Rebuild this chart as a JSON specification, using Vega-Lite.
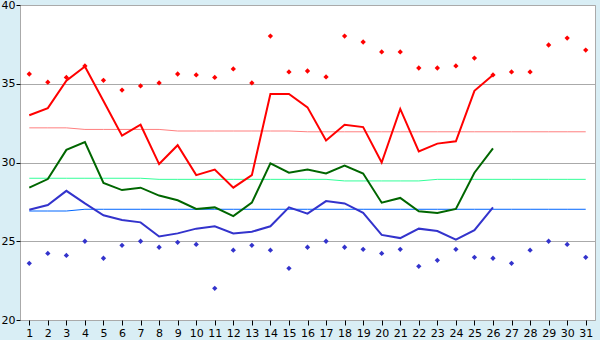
{
  "$schema": "https://vega.github.io/schema/vega-lite/v6.json",
  "width": 575,
  "height": 315,
  "autosize": {"type": "none"},
  "padding": {"left": 20, "top": 5, "right": 5, "bottom": 20},
  "background": "#d9eef5",
  "view": {"fill": "#ffffff", "stroke": "#aaaaaa", "strokeWidth": 1},
  "config": {
    "font": "DejaVu Sans",
    "axis": {"labelFont": "DejaVu Sans", "labelFontSize": 11, "labelColor": "#000000", "tickColor": "#000000", "domain": false, "title": null}
  },
  "datasets": {
    "lines": [
      {"day":1,"s":"max","v":33.0},{"day":2,"s":"max","v":33.45},{"day":3,"s":"max","v":35.2},{"day":4,"s":"max","v":36.1},{"day":5,"s":"max","v":33.9},{"day":6,"s":"max","v":31.7},{"day":7,"s":"max","v":32.4},{"day":8,"s":"max","v":29.9},{"day":9,"s":"max","v":31.1},{"day":10,"s":"max","v":29.2},{"day":11,"s":"max","v":29.55},{"day":12,"s":"max","v":28.4},{"day":13,"s":"max","v":29.2},{"day":14,"s":"max","v":34.35},{"day":15,"s":"max","v":34.35},{"day":16,"s":"max","v":33.5},{"day":17,"s":"max","v":31.4},{"day":18,"s":"max","v":32.4},{"day":19,"s":"max","v":32.25},{"day":20,"s":"max","v":30.0},{"day":21,"s":"max","v":33.4},{"day":22,"s":"max","v":30.7},{"day":23,"s":"max","v":31.2},{"day":24,"s":"max","v":31.35},{"day":25,"s":"max","v":34.55},{"day":26,"s":"max","v":35.55},
      {"day":1,"s":"mean","v":28.4},{"day":2,"s":"mean","v":28.95},{"day":3,"s":"mean","v":30.8},{"day":4,"s":"mean","v":31.3},{"day":5,"s":"mean","v":28.7},{"day":6,"s":"mean","v":28.25},{"day":7,"s":"mean","v":28.4},{"day":8,"s":"mean","v":27.9},{"day":9,"s":"mean","v":27.6},{"day":10,"s":"mean","v":27.05},{"day":11,"s":"mean","v":27.15},{"day":12,"s":"mean","v":26.6},{"day":13,"s":"mean","v":27.45},{"day":14,"s":"mean","v":29.95},{"day":15,"s":"mean","v":29.35},{"day":16,"s":"mean","v":29.55},{"day":17,"s":"mean","v":29.3},{"day":18,"s":"mean","v":29.8},{"day":19,"s":"mean","v":29.3},{"day":20,"s":"mean","v":27.45},{"day":21,"s":"mean","v":27.75},{"day":22,"s":"mean","v":26.9},{"day":23,"s":"mean","v":26.8},{"day":24,"s":"mean","v":27.05},{"day":25,"s":"mean","v":29.35},{"day":26,"s":"mean","v":30.9},
      {"day":1,"s":"min","v":27.0},{"day":2,"s":"min","v":27.3},{"day":3,"s":"min","v":28.2},{"day":4,"s":"min","v":27.4},{"day":5,"s":"min","v":26.65},{"day":6,"s":"min","v":26.35},{"day":7,"s":"min","v":26.2},{"day":8,"s":"min","v":25.3},{"day":9,"s":"min","v":25.5},{"day":10,"s":"min","v":25.8},{"day":11,"s":"min","v":25.95},{"day":12,"s":"min","v":25.5},{"day":13,"s":"min","v":25.6},{"day":14,"s":"min","v":25.95},{"day":15,"s":"min","v":27.15},{"day":16,"s":"min","v":26.75},{"day":17,"s":"min","v":27.55},{"day":18,"s":"min","v":27.4},{"day":19,"s":"min","v":26.8},{"day":20,"s":"min","v":25.4},{"day":21,"s":"min","v":25.2},{"day":22,"s":"min","v":25.8},{"day":23,"s":"min","v":25.65},{"day":24,"s":"min","v":25.1},{"day":25,"s":"min","v":25.7},{"day":26,"s":"min","v":27.15}
    ],
    "normals": [
      {"day":1,"s":"nmax","v":32.2},{"day":2,"s":"nmax","v":32.2},{"day":3,"s":"nmax","v":32.2},{"day":4,"s":"nmax","v":32.1},{"day":5,"s":"nmax","v":32.1},{"day":6,"s":"nmax","v":32.1},{"day":7,"s":"nmax","v":32.1},{"day":8,"s":"nmax","v":32.1},{"day":9,"s":"nmax","v":32.0},{"day":10,"s":"nmax","v":32.0},{"day":11,"s":"nmax","v":32.0},{"day":12,"s":"nmax","v":32.0},{"day":13,"s":"nmax","v":32.0},{"day":14,"s":"nmax","v":32.0},{"day":15,"s":"nmax","v":32.0},{"day":16,"s":"nmax","v":31.95},{"day":17,"s":"nmax","v":31.95},{"day":18,"s":"nmax","v":31.95},{"day":19,"s":"nmax","v":31.95},{"day":20,"s":"nmax","v":31.95},{"day":21,"s":"nmax","v":31.95},{"day":22,"s":"nmax","v":31.95},{"day":23,"s":"nmax","v":31.95},{"day":24,"s":"nmax","v":31.95},{"day":25,"s":"nmax","v":31.95},{"day":26,"s":"nmax","v":31.95},{"day":27,"s":"nmax","v":31.95},{"day":28,"s":"nmax","v":31.95},{"day":29,"s":"nmax","v":31.95},{"day":30,"s":"nmax","v":31.95},{"day":31,"s":"nmax","v":31.95},
      {"day":1,"s":"nmean","v":29.0},{"day":2,"s":"nmean","v":29.0},{"day":3,"s":"nmean","v":29.0},{"day":4,"s":"nmean","v":29.0},{"day":5,"s":"nmean","v":29.0},{"day":6,"s":"nmean","v":29.0},{"day":7,"s":"nmean","v":29.0},{"day":8,"s":"nmean","v":28.93},{"day":9,"s":"nmean","v":28.93},{"day":10,"s":"nmean","v":28.93},{"day":11,"s":"nmean","v":28.93},{"day":12,"s":"nmean","v":28.93},{"day":13,"s":"nmean","v":28.93},{"day":14,"s":"nmean","v":28.93},{"day":15,"s":"nmean","v":28.93},{"day":16,"s":"nmean","v":28.93},{"day":17,"s":"nmean","v":28.93},{"day":18,"s":"nmean","v":28.83},{"day":19,"s":"nmean","v":28.83},{"day":20,"s":"nmean","v":28.83},{"day":21,"s":"nmean","v":28.83},{"day":22,"s":"nmean","v":28.83},{"day":23,"s":"nmean","v":28.93},{"day":24,"s":"nmean","v":28.93},{"day":25,"s":"nmean","v":28.93},{"day":26,"s":"nmean","v":28.93},{"day":27,"s":"nmean","v":28.93},{"day":28,"s":"nmean","v":28.93},{"day":29,"s":"nmean","v":28.93},{"day":30,"s":"nmean","v":28.93},{"day":31,"s":"nmean","v":28.93},
      {"day":1,"s":"nmin","v":26.92},{"day":2,"s":"nmin","v":26.92},{"day":3,"s":"nmin","v":26.92},{"day":4,"s":"nmin","v":27.03},{"day":5,"s":"nmin","v":27.03},{"day":6,"s":"nmin","v":27.03},{"day":7,"s":"nmin","v":27.03},{"day":8,"s":"nmin","v":27.03},{"day":9,"s":"nmin","v":27.03},{"day":10,"s":"nmin","v":27.03},{"day":11,"s":"nmin","v":27.03},{"day":12,"s":"nmin","v":27.03},{"day":13,"s":"nmin","v":27.03},{"day":14,"s":"nmin","v":27.03},{"day":15,"s":"nmin","v":27.03},{"day":16,"s":"nmin","v":27.03},{"day":17,"s":"nmin","v":27.03},{"day":18,"s":"nmin","v":27.03},{"day":19,"s":"nmin","v":27.03},{"day":20,"s":"nmin","v":27.03},{"day":21,"s":"nmin","v":27.03},{"day":22,"s":"nmin","v":27.03},{"day":23,"s":"nmin","v":27.03},{"day":24,"s":"nmin","v":27.03},{"day":25,"s":"nmin","v":27.03},{"day":26,"s":"nmin","v":27.03},{"day":27,"s":"nmin","v":27.03},{"day":28,"s":"nmin","v":27.03},{"day":29,"s":"nmin","v":27.03},{"day":30,"s":"nmin","v":27.03},{"day":31,"s":"nmin","v":27.03}
    ],
    "records": [
      {"day":1,"s":"rhigh","v":35.62},{"day":2,"s":"rhigh","v":35.1},{"day":3,"s":"rhigh","v":35.4},{"day":4,"s":"rhigh","v":36.13},{"day":5,"s":"rhigh","v":35.22},{"day":6,"s":"rhigh","v":34.6},{"day":7,"s":"rhigh","v":34.86},{"day":8,"s":"rhigh","v":35.05},{"day":9,"s":"rhigh","v":35.62},{"day":10,"s":"rhigh","v":35.56},{"day":11,"s":"rhigh","v":35.4},{"day":12,"s":"rhigh","v":35.94},{"day":13,"s":"rhigh","v":35.05},{"day":14,"s":"rhigh","v":38.03},{"day":15,"s":"rhigh","v":35.75},{"day":16,"s":"rhigh","v":35.81},{"day":17,"s":"rhigh","v":35.43},{"day":18,"s":"rhigh","v":38.03},{"day":19,"s":"rhigh","v":37.65},{"day":20,"s":"rhigh","v":37.02},{"day":21,"s":"rhigh","v":37.02},{"day":22,"s":"rhigh","v":36.0},{"day":23,"s":"rhigh","v":36.0},{"day":24,"s":"rhigh","v":36.13},{"day":25,"s":"rhigh","v":36.63},{"day":26,"s":"rhigh","v":35.56},{"day":27,"s":"rhigh","v":35.75},{"day":28,"s":"rhigh","v":35.75},{"day":29,"s":"rhigh","v":37.46},{"day":30,"s":"rhigh","v":37.9},{"day":31,"s":"rhigh","v":37.14},
      {"day":1,"s":"rlow","v":23.6},{"day":2,"s":"rlow","v":24.23},{"day":3,"s":"rlow","v":24.1},{"day":4,"s":"rlow","v":25.0},{"day":5,"s":"rlow","v":23.92},{"day":6,"s":"rlow","v":24.74},{"day":7,"s":"rlow","v":25.0},{"day":8,"s":"rlow","v":24.62},{"day":9,"s":"rlow","v":24.93},{"day":10,"s":"rlow","v":24.8},{"day":11,"s":"rlow","v":22.01},{"day":12,"s":"rlow","v":24.43},{"day":13,"s":"rlow","v":24.74},{"day":14,"s":"rlow","v":24.43},{"day":15,"s":"rlow","v":23.28},{"day":16,"s":"rlow","v":24.62},{"day":17,"s":"rlow","v":25.0},{"day":18,"s":"rlow","v":24.62},{"day":19,"s":"rlow","v":24.49},{"day":20,"s":"rlow","v":24.23},{"day":21,"s":"rlow","v":24.49},{"day":22,"s":"rlow","v":23.41},{"day":23,"s":"rlow","v":23.79},{"day":24,"s":"rlow","v":24.49},{"day":25,"s":"rlow","v":23.98},{"day":26,"s":"rlow","v":23.92},{"day":27,"s":"rlow","v":23.6},{"day":28,"s":"rlow","v":24.43},{"day":29,"s":"rlow","v":25.0},{"day":30,"s":"rlow","v":24.8},{"day":31,"s":"rlow","v":23.98}
    ]
  },
  "encoding": {
    "x": {"field": "day", "type": "quantitative", "scale": {"domain": [0.5, 31.5], "nice": false, "zero": false},
      "axis": {"values": [1,2,3,4,5,6,7,8,9,10,11,12,13,14,15,16,17,18,19,20,21,22,23,24,25,26,27,28,29,30,31], "grid": false, "tickSize": 5, "labelPadding": 2, "labelFlush": false, "labelOverlap": false}},
    "y": {"field": "v", "type": "quantitative", "scale": {"domain": [20, 40], "nice": false, "zero": false},
      "axis": {"values": [20, 25, 30, 35, 40], "grid": true, "gridColor": "#aaaaaa", "gridWidth": 1, "tickSize": 4, "labelPadding": 1, "labelFlush": false}},
    "color": {"field": "s", "type": "nominal", "legend": null,
      "scale": {"domain": ["max","mean","min","nmax","nmean","nmin","rhigh","rlow"], "range": ["#ff0000","#006600","#3333cc","#ff7f7f","#33ff99","#0066ff","#ff0000","#3333cc"]}}
  },
  "layer": [
    {"data": {"name": "normals"}, "mark": {"type": "line", "strokeWidth": 1}, "encoding": {"detail": {"field": "s"}}},
    {"data": {"name": "lines"}, "mark": {"type": "line", "strokeWidth": 2}, "encoding": {"detail": {"field": "s"}}},
    {"data": {"name": "records"}, "mark": {"type": "point", "shape": "diamond", "filled": true, "size": 28, "opacity": 1}}
  ]
}
